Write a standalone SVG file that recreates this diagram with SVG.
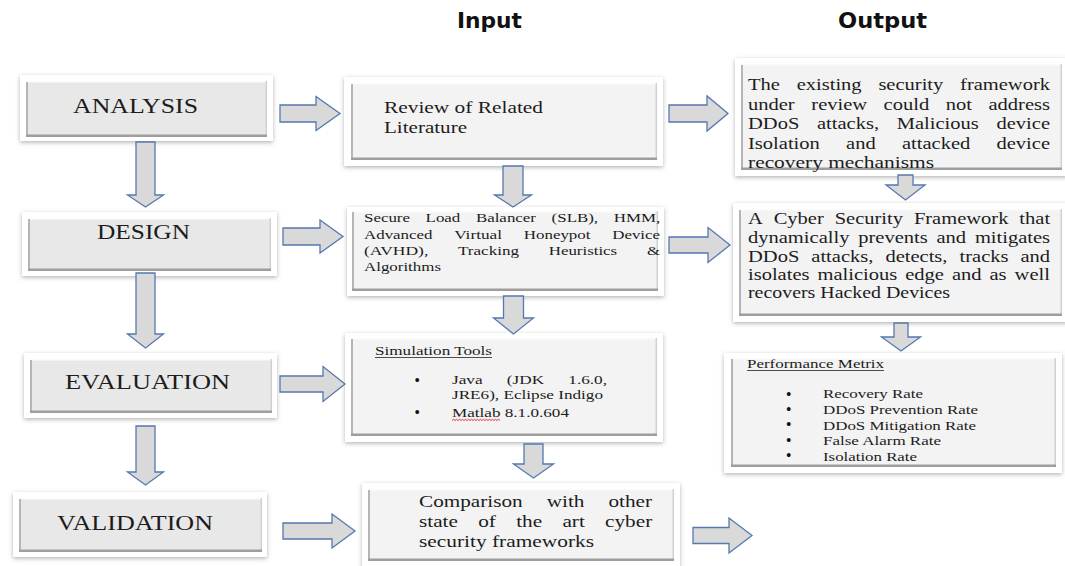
<svg xmlns="http://www.w3.org/2000/svg" width="1065" height="566" viewBox="0 0 1065 566">
<defs>
<filter id="sh" x="-5%" y="-10%" width="110%" height="125%">
<feDropShadow dx="0" dy="1.5" stdDeviation="2" flood-color="#808080" flood-opacity="0.6"/>
</filter>
<style>
.fr{fill:#fff;filter:url(#sh)}
.fa{fill:#e8e8e8}
.fb{fill:#f3f3f3}
.bl{stroke:#b5b5b5;stroke-width:2;fill:none}
.bb{stroke:#9e9e9e;stroke-width:2.5;fill:none}
.bt{stroke:#fbfbfb;stroke-width:1.5;fill:none}
.br{stroke:#d0d0d0;stroke-width:1.5;fill:none}
.t{font-family:"Liberation Serif","Times New Roman",serif;fill:#1c1c1c}
.t21{font-size:21px}
.t16{font-size:16px}
.t13{font-size:13px}
.bu{font-family:"Liberation Serif","Times New Roman",serif;font-size:14px;font-weight:bold;fill:#111}
.h{font-family:"DejaVu Sans","Liberation Sans",sans-serif;font-weight:bold;fill:#111}
.ar{fill:#d9d9d9;stroke:#5677b0;stroke-width:1.3;stroke-linejoin:miter}
.ul{stroke:#222;stroke-width:0.8;fill:none}
.sq{stroke:#e02020;stroke-width:0.9;fill:none}
</style>
</defs>
<rect width="1065" height="566" fill="#fff"/>

<g id="headers">
<text class="h" x="457" y="28" font-size="21" textLength="65" lengthAdjust="spacingAndGlyphs">Input</text>
<text class="h" x="838" y="28" font-size="22" textLength="89" lengthAdjust="spacingAndGlyphs">Output</text>
</g>

<g id="analysis">
<rect class="fr" x="20" y="75" width="253" height="66"/>
<rect class="fa" x="26" y="81" width="241" height="56"/>
<path class="bt" d="M26,81.8H267"/><path class="br" d="M266.3,81V137"/><path class="bl" d="M27,82V137"/><path class="bb" d="M26,135.8H267"/>
<text class="t t21" x="73" y="113" textLength="125" lengthAdjust="spacingAndGlyphs">ANALYSIS</text>
</g>

<g id="design">
<rect class="fr" x="22" y="212" width="255" height="64"/>
<rect class="fa" x="28" y="218" width="243" height="53"/>
<path class="bt" d="M28,218.8H271"/><path class="br" d="M270.3,218V271"/><path class="bl" d="M29,219V271"/><path class="bb" d="M28,269.8H271"/>
<text class="t t21" x="97" y="239" textLength="93" lengthAdjust="spacingAndGlyphs">DESIGN</text>
</g>

<g id="evaluation">
<rect class="fr" x="24" y="353" width="253" height="65"/>
<rect class="fa" x="30" y="359" width="242" height="54"/>
<path class="bt" d="M30,359.8H272"/><path class="br" d="M271.3,359V413"/><path class="bl" d="M31,360V413"/><path class="bb" d="M30,411.8H272"/>
<text class="t t21" x="65" y="389" textLength="165" lengthAdjust="spacingAndGlyphs">EVALUATION</text>
</g>

<g id="validation">
<rect class="fr" x="13" y="492" width="254" height="65"/>
<rect class="fa" x="19" y="498" width="243" height="54"/>
<path class="bt" d="M19,498.8H262"/><path class="br" d="M261.3,498V552"/><path class="bl" d="M20,499V552"/><path class="bb" d="M19,550.8H262"/>
<text class="t t21" x="57" y="530" textLength="156" lengthAdjust="spacingAndGlyphs">VALIDATION</text>
</g>

<g id="review">
<rect class="fr" x="344" y="77" width="319" height="89"/>
<rect class="fb" x="351" y="83" width="306" height="77"/>
<path class="bt" d="M351,83.8H657"/><path class="br" d="M656.3,83V160"/><path class="bl" d="M352,84V160"/><path class="bb" d="M351,158.8H657"/>
<text class="t t16" x="384" y="113" textLength="159" lengthAdjust="spacingAndGlyphs">Review of Related</text>
<text class="t t16" x="384" y="133" textLength="83" lengthAdjust="spacingAndGlyphs">Literature</text>
</g>

<g id="slb">
<rect class="fr" x="347" y="207" width="317" height="89"/>
<rect class="fb" x="352" y="211" width="306" height="80"/>
<path class="bt" d="M352,211.8H658"/><path class="br" d="M657.3,211V291"/><path class="bl" d="M353,212V291"/><path class="bb" d="M352,289.8H658"/>
<g class="t t13">
<text x="364" y="222" textLength="46" lengthAdjust="spacingAndGlyphs">Secure</text>
<text x="425.6" y="222" textLength="34.7" lengthAdjust="spacingAndGlyphs">Load</text>
<text x="475.9" y="222" textLength="60.1" lengthAdjust="spacingAndGlyphs">Balancer</text>
<text x="551.6" y="222" textLength="46.5" lengthAdjust="spacingAndGlyphs">(SLB),</text>
<text x="613.7" y="222" textLength="46.5" lengthAdjust="spacingAndGlyphs">HMM,</text>
<text x="364" y="238.5" textLength="68.5" lengthAdjust="spacingAndGlyphs">Advanced</text>
<text x="454.2" y="238.5" textLength="47.9" lengthAdjust="spacingAndGlyphs">Virtual</text>
<text x="523.8" y="238.5" textLength="66.7" lengthAdjust="spacingAndGlyphs">Honeypot</text>
<text x="612.2" y="238.5" textLength="47.9" lengthAdjust="spacingAndGlyphs">Device</text>
<text x="364" y="255" textLength="64.3" lengthAdjust="spacingAndGlyphs">(AVHD),</text>
<text x="458" y="255" textLength="61" lengthAdjust="spacingAndGlyphs">Tracking</text>
<text x="548.7" y="255" textLength="68.5" lengthAdjust="spacingAndGlyphs">Heuristics</text>
<text x="646.9" y="255" textLength="13.1" lengthAdjust="spacingAndGlyphs">&amp;</text>
<text x="364" y="271" textLength="77" lengthAdjust="spacingAndGlyphs">Algorithms</text>
</g>
</g>

<g id="simulation">
<rect class="fr" x="345" y="333" width="318" height="109"/>
<rect class="fb" x="351" y="338" width="306" height="98"/>
<path class="bt" d="M351,338.8H657"/><path class="br" d="M656.3,338V436"/><path class="bl" d="M352,339V436"/><path class="bb" d="M351,434.8H657"/>
<g class="t t13">
<text x="375" y="355" textLength="117" lengthAdjust="spacingAndGlyphs">Simulation Tools</text>
<text x="452" y="384" textLength="30.6" lengthAdjust="spacingAndGlyphs">Java</text>
<text x="506.8" y="384" textLength="37.3" lengthAdjust="spacingAndGlyphs">(JDK</text>
<text x="568.3" y="384" textLength="38.7" lengthAdjust="spacingAndGlyphs">1.6.0,</text>
<text x="452" y="399" textLength="151" lengthAdjust="spacingAndGlyphs">JRE6), Eclipse Indigo</text>
<text x="452" y="417" textLength="117" lengthAdjust="spacingAndGlyphs">Matlab 8.1.0.604</text>
</g>
<text class="bu" x="414.8" y="385.2">•</text>
<text class="bu" x="414.8" y="417">•</text>
<path class="ul" d="M375,357.5H492"/>
<path class="sq" d="M452,420.5l1.5,-1.2l1.5,1.2l1.5,-1.2l1.5,1.2l1.5,-1.2l1.5,1.2l1.5,-1.2l1.5,1.2l1.5,-1.2l1.5,1.2l1.5,-1.2l1.5,1.2l1.5,-1.2l1.5,1.2l1.5,-1.2l1.5,1.2l1.5,-1.2l1.5,1.2l1.5,-1.2l1.5,1.2l1.5,-1.2l1.5,1.2l1.5,-1.2l1.5,1.2l1.5,-1.2l1.5,1.2l1.5,-1.2l1.5,1.2l1.5,-1.2l1.5,1.2l1.5,-1.2l1.5,1.2"/>
</g>

<g id="comparison">
<rect class="fr" x="362" y="483" width="318" height="84"/>
<rect class="fb" x="368" y="489" width="306" height="72"/>
<path class="bt" d="M368,489.8H674"/><path class="br" d="M673.3,489V561"/><path class="bl" d="M369,490V561"/><path class="bb" d="M368,559.8H674"/>
<g class="t t16">
<text x="419" y="507" textLength="103.6" lengthAdjust="spacingAndGlyphs">Comparison</text>
<text x="546.7" y="507" textLength="37.7" lengthAdjust="spacingAndGlyphs">with</text>
<text x="608.4" y="507" textLength="43.6" lengthAdjust="spacingAndGlyphs">other</text>
<text x="419" y="527" textLength="38.9" lengthAdjust="spacingAndGlyphs">state</text>
<text x="478.2" y="527" textLength="17.7" lengthAdjust="spacingAndGlyphs">of</text>
<text x="516.2" y="527" textLength="25.9" lengthAdjust="spacingAndGlyphs">the</text>
<text x="562.4" y="527" textLength="22.4" lengthAdjust="spacingAndGlyphs">art</text>
<text x="605.1" y="527" textLength="47.1" lengthAdjust="spacingAndGlyphs">cyber</text>
<text x="419" y="547" textLength="175" lengthAdjust="spacingAndGlyphs">security frameworks</text>
</g>
</g>

<g id="existing">
<rect class="fr" x="735" y="58" width="333" height="118"/>
<rect class="fb" x="741" y="64" width="321" height="106"/>
<path class="bt" d="M741,64.8H1062"/><path class="br" d="M1061.3,64V170"/><path class="bl" d="M742,65V170"/><path class="bb" d="M741,168.8H1062"/>
<g class="t t16">
<text x="748" y="90" textLength="31.9" lengthAdjust="spacingAndGlyphs">The</text>
<text x="796.7" y="90" textLength="64.9" lengthAdjust="spacingAndGlyphs">existing</text>
<text x="878.4" y="90" textLength="64.9" lengthAdjust="spacingAndGlyphs">security</text>
<text x="960.1" y="90" textLength="89.9" lengthAdjust="spacingAndGlyphs">framework</text>
<text x="748" y="109.5" textLength="46.7" lengthAdjust="spacingAndGlyphs">under</text>
<text x="811.3" y="109.5" textLength="55.8" lengthAdjust="spacingAndGlyphs">review</text>
<text x="883.6" y="109.5" textLength="45.6" lengthAdjust="spacingAndGlyphs">could</text>
<text x="945.8" y="109.5" textLength="26.2" lengthAdjust="spacingAndGlyphs">not</text>
<text x="988.5" y="109.5" textLength="61.5" lengthAdjust="spacingAndGlyphs">address</text>
<text x="748" y="129" textLength="51.3" lengthAdjust="spacingAndGlyphs">DDoS</text>
<text x="817" y="129" textLength="62.1" lengthAdjust="spacingAndGlyphs">attacks,</text>
<text x="896.8" y="129" textLength="82" lengthAdjust="spacingAndGlyphs">Malicious</text>
<text x="996.5" y="129" textLength="53.5" lengthAdjust="spacingAndGlyphs">device</text>
<text x="748" y="148.5" textLength="71.8" lengthAdjust="spacingAndGlyphs">Isolation</text>
<text x="846.1" y="148.5" textLength="29.6" lengthAdjust="spacingAndGlyphs">and</text>
<text x="902" y="148.5" textLength="68.3" lengthAdjust="spacingAndGlyphs">attacked</text>
<text x="996.5" y="148.5" textLength="53.5" lengthAdjust="spacingAndGlyphs">device</text>
<text x="748" y="168" textLength="186" lengthAdjust="spacingAndGlyphs">recovery mechanisms</text>
</g>
</g>

<g id="framework">
<rect class="fr" x="733" y="203" width="335" height="119"/>
<rect class="fb" x="739" y="209" width="323" height="107"/>
<path class="bt" d="M739,209.8H1062"/><path class="br" d="M1061.3,209V316"/><path class="bl" d="M740,210V316"/><path class="bb" d="M739,314.8H1062"/>
<g class="t t16">
<text x="748" y="224" textLength="14.8" lengthAdjust="spacingAndGlyphs">A</text>
<text x="773.7" y="224" textLength="50.1" lengthAdjust="spacingAndGlyphs">Cyber</text>
<text x="834.7" y="224" textLength="68.3" lengthAdjust="spacingAndGlyphs">Security</text>
<text x="913.9" y="224" textLength="94.5" lengthAdjust="spacingAndGlyphs">Framework</text>
<text x="1019.3" y="224" textLength="30.8" lengthAdjust="spacingAndGlyphs">that</text>
<text x="748" y="243" textLength="101.4" lengthAdjust="spacingAndGlyphs">dynamically</text>
<text x="858.2" y="243" textLength="69.5" lengthAdjust="spacingAndGlyphs">prevents</text>
<text x="936.5" y="243" textLength="29.6" lengthAdjust="spacingAndGlyphs">and</text>
<text x="974.9" y="243" textLength="75.2" lengthAdjust="spacingAndGlyphs">mitigates</text>
<text x="748" y="261.5" textLength="51.3" lengthAdjust="spacingAndGlyphs">DDoS</text>
<text x="811.3" y="261.5" textLength="62.1" lengthAdjust="spacingAndGlyphs">attacks,</text>
<text x="885.4" y="261.5" textLength="62.1" lengthAdjust="spacingAndGlyphs">detects,</text>
<text x="959.5" y="261.5" textLength="49" lengthAdjust="spacingAndGlyphs">tracks</text>
<text x="1020.5" y="261.5" textLength="29.6" lengthAdjust="spacingAndGlyphs">and</text>
<text x="748" y="280" textLength="61.5" lengthAdjust="spacingAndGlyphs">isolates</text>
<text x="817.5" y="280" textLength="79.7" lengthAdjust="spacingAndGlyphs">malicious</text>
<text x="905.2" y="280" textLength="38.7" lengthAdjust="spacingAndGlyphs">edge</text>
<text x="951.9" y="280" textLength="29.6" lengthAdjust="spacingAndGlyphs">and</text>
<text x="989.5" y="280" textLength="17.1" lengthAdjust="spacingAndGlyphs">as</text>
<text x="1014.6" y="280" textLength="35.3" lengthAdjust="spacingAndGlyphs">well</text>
<text x="748" y="298" textLength="202" lengthAdjust="spacingAndGlyphs">recovers Hacked Devices</text>
</g>
</g>

<g id="metrics">
<rect class="fr" x="724" y="353" width="338" height="120"/>
<rect class="fb" x="731" y="358" width="325" height="109"/>
<path class="bt" d="M731,358.8H1056"/><path class="br" d="M1055.3,358V467"/><path class="bl" d="M732,359V467"/><path class="bb" d="M731,465.8H1056"/>
<g class="t t13">
<text x="747" y="368" textLength="137" lengthAdjust="spacingAndGlyphs">Performance Metrix</text>
<text x="823" y="398" textLength="100" lengthAdjust="spacingAndGlyphs">Recovery Rate</text>
<text x="823" y="414" textLength="155" lengthAdjust="spacingAndGlyphs">DDoS Prevention Rate</text>
<text x="823" y="429.5" textLength="153" lengthAdjust="spacingAndGlyphs">DDoS Mitigation Rate</text>
<text x="823" y="445" textLength="118" lengthAdjust="spacingAndGlyphs">False Alarm Rate</text>
<text x="823" y="461" textLength="94" lengthAdjust="spacingAndGlyphs">Isolation Rate</text>
</g>
<text class="bu" x="786.2" y="399.2">•</text>
<text class="bu" x="786.2" y="413.8">•</text>
<text class="bu" x="786.2" y="429.3">•</text>
<text class="bu" x="786.2" y="444.9">•</text>
<text class="bu" x="786.2" y="460.2">•</text>
<path class="ul" d="M747,370.5H884"/>
</g>

<g id="connectors">
<path class="ar" d="M280,105H316V96.5L340,113.5L316,130.5V122H280Z"/>
<path class="ar" d="M283,228H320V220L343,236.5L320,253V245H283Z"/>
<path class="ar" d="M280,376H323V366.5L345,384L323,401.5V392H280Z"/>
<path class="ar" d="M283,523H332V514L355,531L332,548V539H283Z"/>
<path class="ar" d="M669,105H707V96L728,113.5L707,131V122H669Z"/>
<path class="ar" d="M669,237H708V227.5L730,245L708,262.5V253H669Z"/>
<path class="ar" d="M693,527.5H729V518L752,535.5L729,553V543.5H693Z"/>
<path class="ar" d="M136,142V195H127.5L145.5,207L163.5,195H155V142Z"/>
<path class="ar" d="M136,273V334H127.5L145.5,348L163.5,334H155V273Z"/>
<path class="ar" d="M136,426V472H127.5L145.5,485L163.5,472H155V426Z"/>
<path class="ar" d="M503,166V195H494.5L513,207L531.5,195H523V166Z"/>
<path class="ar" d="M503.5,296V318H493.5L513.5,334L533.5,318H523.5V296Z"/>
<path class="ar" d="M524,444V464H513.5L533.5,478L553.5,464H543V444Z"/>
<path class="ar" d="M898,175V185H886L905.5,200L925,185H913V175Z"/>
<path class="ar" d="M894,323V337H881.5L901,351L920.5,337H908V323Z"/>
</g>
</svg>
